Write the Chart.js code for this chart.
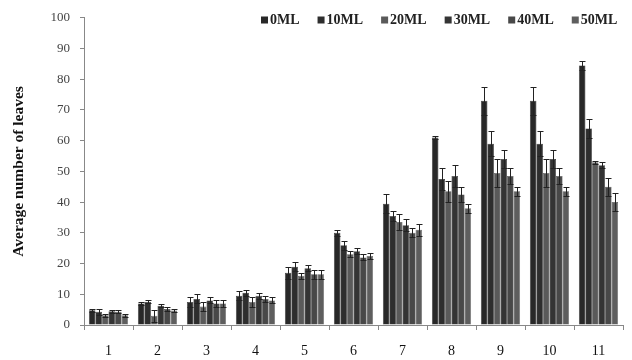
<!DOCTYPE html>
<html><head><meta charset="utf-8">
<script src="https://cdn.jsdelivr.net/npm/chart.js@4"></script>
<style>html,body{margin:0;padding:0;background:#fff}#wrap{width:632px;height:360px}</style>
</head><body><div id="wrap"><canvas id="c" width="632" height="360"></canvas></div>
<script>
const categories = ['1','2','3','4','5','6','7','8','9','10','11'];
const seriesNames = ['0ML','10ML','20ML','30ML','40ML','50ML'];
const v0ML  = [4.8, 7.0, 7.5, 9.5, 17.0, 30.0, 39.5, 61.0, 73.0, 73.0, 84.5];
const v10ML = [4.3, 7.5, 8.5, 10.5, 19.0, 26.0, 35.5, 47.5, 59.0, 59.0, 64.0];
const v20ML = [3.2, 3.0, 6.0, 7.5, 16.0, 23.0, 33.5, 43.5, 49.5, 49.5, 53.0];
const v30ML = [4.5, 6.3, 8.0, 9.5, 18.5, 24.0, 32.5, 48.5, 54.0, 54.0, 52.0];
const v40ML = [4.3, 5.2, 7.0, 8.5, 16.5, 22.0, 30.0, 42.5, 48.5, 48.5, 45.0];
const v50ML = [3.2, 4.7, 7.0, 8.0, 16.5, 22.5, 31.0, 38.0, 43.5, 43.5, 40.0];
const e0ML  = [0.5, 0.5, 1.5, 1.5, 2.0, 1.0, 3.0, 0.5, 4.5, 4.5, 1.5];
const e10ML = [1.0, 0.5, 1.5, 1.0, 1.5, 1.5, 1.5, 3.5, 4.0, 4.0, 3.0];
const e20ML = [0.5, 2.0, 1.5, 1.5, 1.0, 1.0, 2.5, 3.5, 4.5, 4.5, 0.5];
const e30ML = [0.5, 0.5, 1.0, 1.0, 1.0, 1.0, 2.0, 3.5, 3.0, 3.0, 1.0];
const e40ML = [0.5, 0.5, 1.0, 1.0, 1.5, 1.0, 1.5, 2.5, 2.5, 2.5, 3.0];
const e50ML = [0.5, 0.5, 1.0, 1.0, 1.5, 1.0, 2.0, 1.5, 1.5, 1.5, 3.0];
const yTicks = [0,10,20,30,40,50,60,70,80,90,100];

const values = [v0ML, v10ML, v20ML, v30ML, v40ML, v50ML];
const errors = [e0ML, e10ML, e20ML, e30ML, e40ML, e50ML];
const colors = ['#282828','#2e2e2e','#5a5a5a','#343434','#484848','#5e5e5e'];
const serif = '"Liberation Serif", "DejaVu Serif", serif';

const errorBars = {
  id: 'errorBars',
  afterDatasetsDraw(chart) {
    const ctx = chart.ctx, ys = chart.scales.y;
    ctx.save();
    ctx.strokeStyle = '#222'; ctx.lineWidth = 1;
    chart.data.datasets.forEach((ds, di) => {
      const meta = chart.getDatasetMeta(di);
      meta.data.forEach((el, i) => {
        const v = ds.data[i], e = errors[di][i];
        const x = Math.round(el.x) + 0.5;
        const t = Math.round(ys.getPixelForValue(v + e)) + 0.5;
        const b = Math.round(ys.getPixelForValue(v - e)) + 0.5;
        ctx.beginPath();
        ctx.moveTo(x, t); ctx.lineTo(x, b);
        ctx.moveTo(x - 3, t); ctx.lineTo(x + 3, t);
        ctx.moveTo(x - 3, b); ctx.lineTo(x + 3, b);
        ctx.stroke();
      });
    });
    ctx.restore();
  }
};

const customLegend = {
  id: 'customLegend',
  afterDraw(chart) {
    const ctx = chart.ctx;
    ctx.save();
    ctx.font = 'bold 14px ' + serif;
    ctx.textBaseline = 'middle';
    ctx.textAlign = 'left';
    let x = 261;
    const cy = 20, gap = 18;
    seriesNames.forEach((n, i) => {
      ctx.fillStyle = colors[i];
      ctx.fillRect(x, cy - 3.5, 7, 7);
      ctx.fillStyle = '#222';
      ctx.fillText(n, x + 9, cy + 0.5);
      x += 9 + ctx.measureText(n).width + gap;
    });
    ctx.restore();
  }
};

new Chart(document.getElementById('c'), {
  type: 'bar',
  data: {
    labels: categories,
    datasets: seriesNames.map((n, i) => ({
      label: n,
      data: values[i],
      backgroundColor: colors[i],
      borderColor: colors[i],
      borderWidth: 0.6,
      borderSkipped: 'bottom',
      barPercentage: 1.0,
      categoryPercentage: 0.8
    }))
  },
  options: {
    responsive: false,
    animation: false,
    layout: { padding: { top: 16, right: 9, left: 0, bottom: 0 } },
    plugins: { legend: { display: false }, tooltip: { enabled: false } },
    scales: {
      x: {
        offset: true,
        grid: { display: true, offset: true, drawOnChartArea: false, color: '#888', tickLength: 5 },
        border: { display: true, color: '#888' },
        ticks: { color: '#111', font: { family: serif, size: 14 }, padding: 13 },
        afterFit(s) { s.height = 35; }
      },
      y: {
        min: 0, max: 100,
        afterBuildTicks(s) { s.ticks = yTicks.map(v => ({ value: v })); },
        grid: { display: true, drawOnChartArea: false, color: '#888', tickLength: 4 },
        border: { display: true, color: '#888' },
        ticks: { color: '#444', font: { family: serif, size: 13 }, padding: 10 },
        title: { display: true, text: 'Average number of leaves', color: '#111',
                 font: { family: serif, size: 15.5, weight: 'bold' }, padding: { top: 10, bottom: 0 } },
        afterFit(s) { s.width = 84; }
      }
    }
  },
  plugins: [errorBars, customLegend]
});
</script></body></html>
